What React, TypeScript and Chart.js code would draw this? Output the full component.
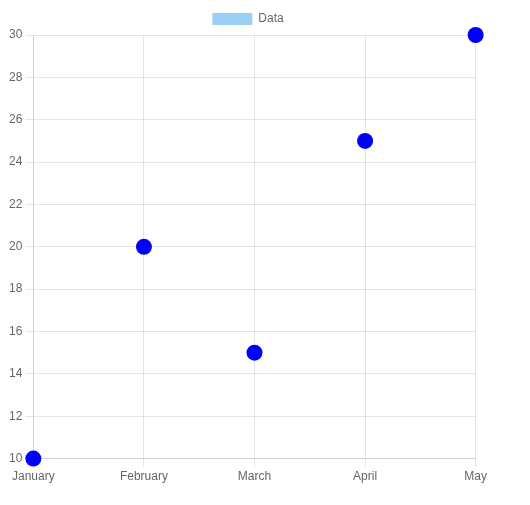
import React, { useEffect, useRef } from "react";
import { Chart, registerables } from "chart.js";

Chart.register(...registerables);

const labels = ["January", "February", "March", "April", "May"];
const values = [10, 20, 15, 25, 30];
const seriesName = "Data";

export default function App() {
  const ref = useRef<HTMLCanvasElement | null>(null);
  useEffect(() => {
    if (!ref.current) return;
    Chart.defaults.font.family = "'Liberation Sans', Arial, Helvetica, sans-serif";
    Chart.defaults.color = "#666";
    const chart = new Chart(ref.current, {
      type: "line",
      data: {
        labels,
        datasets: [
          {
            label: seriesName,
            data: values,
            showLine: false,
            backgroundColor: "rgba(54,162,235,0.5)",
            borderColor: "rgba(54,162,235,0.5)",
            borderWidth: 0,
            pointBackgroundColor: "blue",
            pointBorderColor: "blue",
            pointBorderWidth: 0,
            pointRadius: 8,
            clip: false,
          },
        ],
      },
      options: {
        animation: false,
        responsive: true,
        maintainAspectRatio: false,
        plugins: {
          legend: { display: true },
          tooltip: { enabled: false },
        },
        scales: {
          y: { min: 10, max: 30, ticks: { stepSize: 2 } },
        },
      },
    });
    return () => chart.destroy();
  }, []);
  return (
    <div style={{ width: 484, height: 484, position: "relative", marginLeft: -2, marginTop: -5 }}>
      <canvas ref={ref} />
    </div>
  );
}
